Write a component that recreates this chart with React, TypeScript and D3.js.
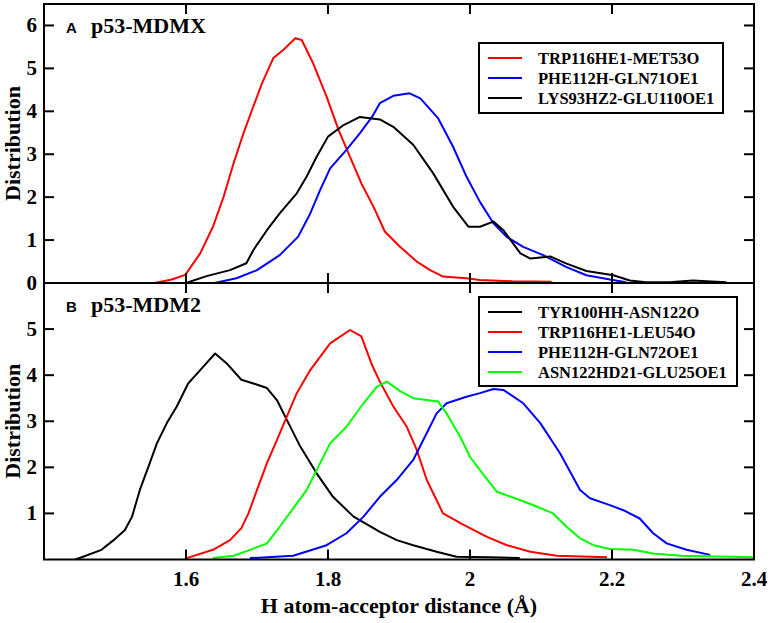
import React from "react";
import * as d3 from "d3";

type Pt = [number, number];

// Panel A: p53-MDMX
const mdmxTrp116Met53: Pt[] = [[1.556,0],[1.58,0.08],[1.599,0.19],[1.620,0.69],[1.638,1.31],[1.653,2.01],[1.667,2.79],[1.681,3.49],[1.693,4.03],[1.707,4.65],[1.723,5.24],[1.737,5.43],[1.754,5.70],[1.763,5.66],[1.779,5.12],[1.798,4.34],[1.815,3.56],[1.831,2.94],[1.847,2.32],[1.864,1.78],[1.880,1.20],[1.901,0.85],[1.925,0.50],[1.944,0.30],[1.962,0.15],[1.995,0.11],[2.014,0.07],[2.06,0.04],[2.115,0.03]];
const mdmxPhe112Gln71: Pt[] = [[1.640,0],[1.671,0.11],[1.700,0.30],[1.732,0.65],[1.758,1.08],[1.775,1.62],[1.789,2.17],[1.803,2.67],[1.826,3.10],[1.845,3.49],[1.862,3.87],[1.873,4.19],[1.892,4.36],[1.915,4.42],[1.930,4.30],[1.955,3.84],[1.976,3.18],[1.995,2.48],[2.014,1.89],[2.033,1.39],[2.052,1.07],[2.075,0.84],[2.103,0.65],[2.136,0.37],[2.164,0.18],[2.197,0.08],[2.220,0.02]];
const mdmxLys93Glu110: Pt[] = [[1.600,0],[1.629,0.16],[1.662,0.30],[1.685,0.46],[1.695,0.77],[1.714,1.23],[1.732,1.62],[1.756,2.09],[1.770,2.48],[1.784,2.94],[1.800,3.41],[1.822,3.68],[1.845,3.87],[1.873,3.81],[1.892,3.64],[1.920,3.22],[1.948,2.56],[1.976,1.78],[1.998,1.31],[2.014,1.31],[2.033,1.43],[2.047,1.23],[2.071,0.69],[2.085,0.57],[2.113,0.62],[2.136,0.45],[2.164,0.28],[2.202,0.18],[2.225,0.06],[2.248,0.02],[2.281,0.02],[2.314,0.06],[2.333,0.04],[2.361,0.02]];

// Panel B: p53-MDM2
const mdm2Tyr100Asn122: Pt[] = [[1.444,0],[1.455,0.06],[1.481,0.21],[1.498,0.42],[1.514,0.64],[1.524,0.93],[1.535,1.51],[1.547,2.01],[1.559,2.52],[1.573,2.96],[1.587,3.32],[1.603,3.82],[1.620,4.11],[1.641,4.47],[1.657,4.26],[1.678,3.90],[1.695,3.82],[1.714,3.72],[1.728,3.46],[1.742,3.03],[1.761,2.45],[1.784,1.87],[1.807,1.36],[1.836,0.93],[1.864,0.68],[1.873,0.60],[1.897,0.42],[1.920,0.31],[1.953,0.17],[1.981,0.06],[2.028,0.05],[2.070,0.03]];
const mdm2Trp116Leu54: Pt[] = [[1.601,0.03],[1.638,0.21],[1.662,0.42],[1.678,0.68],[1.688,1.00],[1.700,1.51],[1.714,2.09],[1.728,2.59],[1.742,3.10],[1.756,3.61],[1.775,4.11],[1.803,4.69],[1.831,4.98],[1.847,4.84],[1.862,4.22],[1.873,3.86],[1.892,3.32],[1.911,2.88],[1.925,2.38],[1.939,1.73],[1.962,1.00],[1.991,0.75],[2.024,0.49],[2.052,0.31],[2.085,0.17],[2.122,0.08],[2.193,0.05]];
const mdm2Phe112Gln72: Pt[] = [[1.690,0.03],[1.751,0.08],[1.798,0.31],[1.826,0.57],[1.850,0.93],[1.873,1.36],[1.897,1.73],[1.920,2.16],[1.939,2.74],[1.953,3.17],[1.967,3.39],[1.995,3.53],[2.014,3.61],[2.033,3.70],[2.047,3.68],[2.075,3.39],[2.099,2.96],[2.127,2.30],[2.155,1.51],[2.169,1.33],[2.197,1.18],[2.216,1.07],[2.239,0.89],[2.258,0.57],[2.277,0.35],[2.305,0.21],[2.338,0.10]];
const mdm2Asn122Glu25: Pt[] = [[1.638,0.03],[1.667,0.08],[1.690,0.21],[1.714,0.35],[1.732,0.71],[1.751,1.11],[1.770,1.51],[1.784,1.94],[1.803,2.52],[1.826,2.88],[1.850,3.39],[1.869,3.75],[1.883,3.86],[1.901,3.66],[1.920,3.50],[1.955,3.43],[1.967,3.17],[1.986,2.67],[2.000,2.23],[2.014,1.94],[2.038,1.47],[2.070,1.29],[2.094,1.15],[2.117,1.00],[2.136,0.71],[2.155,0.46],[2.174,0.31],[2.197,0.23],[2.230,0.21],[2.258,0.13],[2.296,0.08],[2.400,0.05]];

const seriesA = [
  { name: "TRP116HE1-MET53O", color: "#ff0000", data: mdmxTrp116Met53 },
  { name: "PHE112H-GLN71OE1", color: "#0000ff", data: mdmxPhe112Gln71 },
  { name: "LYS93HZ2-GLU110OE1", color: "#000000", data: mdmxLys93Glu110 },
];
const seriesB = [
  { name: "TYR100HH-ASN122O", color: "#000000", data: mdm2Tyr100Asn122 },
  { name: "TRP116HE1-LEU54O", color: "#ff0000", data: mdm2Trp116Leu54 },
  { name: "PHE112H-GLN72OE1", color: "#0000ff", data: mdm2Phe112Gln72 },
  { name: "ASN122HD21-GLU25OE1", color: "#00ff00", data: mdm2Asn122Glu25 },
];

const xTicks = [1.6, 1.8, 2.0, 2.2, 2.4];
const xTickLabels = ["1.6", "1.8", "2", "2.2", "2.4"];
const yTicksA = [0, 1, 2, 3, 4, 5, 6];
const yTicksB = [1, 2, 3, 4, 5];

const W = 772, H = 623;
const L = 44, R = 754;
const serif = "'Liberation Serif', 'Times New Roman', serif";
const sans = "'Liberation Sans', Arial, sans-serif";

const x = d3.scaleLinear().domain([1.4, 2.4]).range([L, R]);

function Panel({ top, bottom, yMax, yTicks, series, letter, title, legend }: any) {
  const y = d3.scaleLinear().domain([0, yMax]).range([bottom, top]);
  const line = d3.line<Pt>().x((d) => x(d[0])).y((d) => y(d[1]));
  const clipId = "clip" + letter;
  const tk = 10;
  return (
    <g>
      <defs>
        <clipPath id={clipId}>
          <rect x={L} y={top} width={R - L} height={bottom - top} />
        </clipPath>
      </defs>
      <g clipPath={`url(#${clipId})`}>
        {series.map((s: any) => (
          <path key={s.name} d={line(s.data) || ""} fill="none" stroke={s.color} strokeWidth={2} strokeLinejoin="round" />
        ))}
      </g>
      {xTicks.filter((t) => t < 2.39).map((t) => (
        <g key={"xt" + t}>
          <line x1={x(t)} x2={x(t)} y1={top} y2={top + tk} stroke="#000" strokeWidth={2} />
          <line x1={x(t)} x2={x(t)} y1={bottom} y2={bottom - tk} stroke="#000" strokeWidth={2} />
        </g>
      ))}
      {yTicks.map((t: number) => (
        <g key={"yt" + t}>
          <line x1={L} x2={L + tk} y1={y(t)} y2={y(t)} stroke="#000" strokeWidth={2} />
          <line x1={R} x2={R - tk} y1={y(t)} y2={y(t)} stroke="#000" strokeWidth={2} />
          <text x={37} y={y(t) + 7} textAnchor="end" fontFamily={serif} fontWeight="bold" fontSize={21}>{t}</text>
        </g>
      ))}
      <rect x={L} y={top} width={R - L} height={bottom - top} fill="none" stroke="#000" strokeWidth={2} />
      <text x={66} y={top + 29} fontFamily={sans} fontWeight="bold" fontSize={15}>{letter}</text>
      <text x={91} y={top + 29} fontFamily={serif} fontWeight="bold" fontSize={22}>{title}</text>
      <text transform={`translate(20,${(top + bottom) / 2}) rotate(-90)`} textAnchor="middle" fontFamily={serif} fontWeight="bold" fontSize={22}>Distribution</text>
      <rect x={legend.x} y={legend.y} width={legend.w} height={legend.h} fill="#fff" stroke="#000" strokeWidth={2} />
      {series.map((s: any, i: number) => {
        const ly = legend.y + 15 + i * 20;
        return (
          <g key={"lg" + s.name}>
            <line x1={legend.x + 9} x2={legend.x + 43} y1={ly} y2={ly} stroke={s.color} strokeWidth={2} />
            <text x={legend.x + 59} y={ly + 6} fontFamily={serif} fontWeight="bold" fontSize={16.5}>{s.name}</text>
          </g>
        );
      })}
    </g>
  );
}

export default function App() {
  const topA = 4, botA = 283, botB = 559.5;
  return (
    <svg width={W} height={H} style={{ position: "absolute", left: 0, top: 0, background: "#fff" }}>
      <rect x={0} y={0} width={W} height={H} fill="#fff" />
      <Panel top={topA} bottom={botA} yMax={6.5} yTicks={yTicksA} series={seriesA} letter="A" title="p53-MDMX"
        legend={{ x: 479, y: 43, w: 244, h: 70 }} />
      <Panel top={botA} bottom={botB} yMax={6} yTicks={yTicksB} series={seriesB} letter="B" title="p53-MDM2"
        legend={{ x: 479, y: 297, w: 258, h: 89 }} />
      {xTicks.map((t, i) => (
        <text key={"xl" + t} x={x(t)} y={586} textAnchor="middle" fontFamily={serif} fontWeight="bold" fontSize={21}>{xTickLabels[i]}</text>
      ))}
      <text x={(L + R) / 2} y={613} textAnchor="middle" fontFamily={serif} fontWeight="bold" fontSize={22}>H atom-acceptor distance (Å)</text>
    </svg>
  );
}
